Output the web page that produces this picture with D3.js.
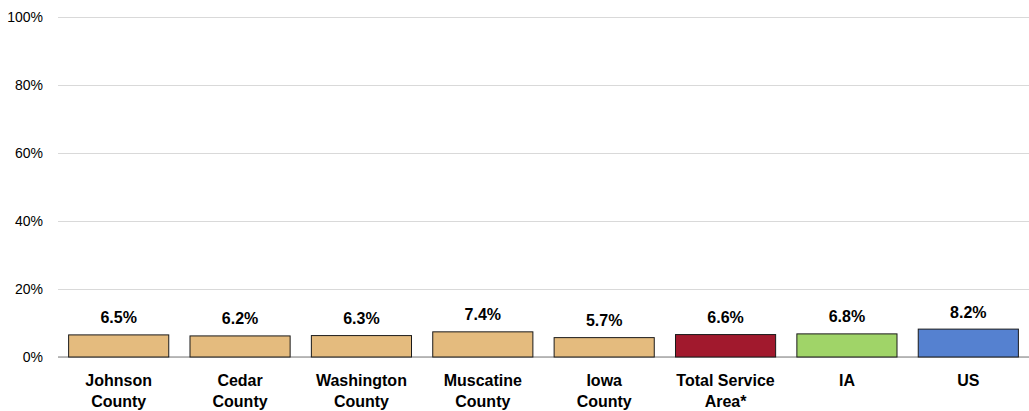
<!DOCTYPE html>
<html><head><meta charset="utf-8">
<script src="https://cdn.jsdelivr.net/npm/d3@7"></script>
<style>body{margin:0;background:#fff}svg{display:block}text{font-family:"Liberation Sans Narrow","Arial Narrow","Liberation Sans",Arial,sans-serif}</style>
</head><body><svg id="c" width="1029" height="411"></svg>
<script>
const categories = [["Johnson","County"],["Cedar","County"],["Washington","County"],["Muscatine","County"],["Iowa","County"],["Total Service","Area*"],["IA"],["US"]];
const values = [6.5, 6.2, 6.3, 7.4, 5.7, 6.6, 6.8, 8.2];
const colors = ["#E4BB7E","#E4BB7E","#E4BB7E","#E4BB7E","#E4BB7E","#A1192D","#A0D468","#5581D0"];
const ticks = [0, 20, 40, 60, 80, 100];

(function(){
const svg = d3.select("#c");
const mL = 58, mR = 1029, mT = 17, mB = 357;
const x = d3.scaleBand().domain(d3.range(categories.length)).range([mL, mR]).paddingInner(0.175).paddingOuter(0.0875);
const y = d3.scaleLinear().domain([0, 100]).range([mB, mT]);

const yAxis = svg.append("g").attr("transform", `translate(${mL},0)`)
  .call(d3.axisLeft(y).tickValues(ticks).tickFormat(d => d + "%").tickSize(-(mR - mL)).tickPadding(15));
yAxis.select(".domain").remove();
yAxis.selectAll(".tick line").attr("stroke", "#d9d9d9").attr("stroke-width", 1);
yAxis.selectAll(".tick text").attr("font-size", 14).attr("fill", "#000")
  .attr("font-family", "'Liberation Sans Narrow','Arial Narrow','Liberation Sans',Arial,sans-serif");

svg.append("line").attr("x1", mL).attr("x2", mR).attr("y1", y(0)).attr("y2", y(0)).attr("stroke", "#a6a6a6").attr("stroke-width", 1.5);

svg.selectAll("rect.bar").data(values).join("rect").attr("class", "bar")
  .attr("x", (d, i) => x(i)).attr("width", x.bandwidth())
  .attr("y", d => y(d)).attr("height", d => y(0) - y(d))
  .attr("fill", (d, i) => colors[i]).attr("stroke", "#1a1a1a").attr("stroke-width", 1);

svg.selectAll("text.val").data(values).join("text").attr("class", "val")
  .attr("x", (d, i) => x(i) + x.bandwidth() / 2).attr("y", d => y(d) - 11.5)
  .attr("text-anchor", "middle").attr("font-size", 16).attr("font-weight", "bold").text(d => d.toFixed(1) + "%");

const lab = svg.selectAll("text.cat").data(categories).join("text").attr("class", "cat")
  .attr("x", (d, i) => x(i) + x.bandwidth() / 2).attr("y", 386)
  .attr("text-anchor", "middle").attr("font-size", 16).attr("font-weight", "bold");
lab.selectAll("tspan").data(d => d).join("tspan")
  .attr("x", function() { return d3.select(this.parentNode).attr("x"); })
  .attr("dy", (d, i) => i === 0 ? 0 : 21).text(d => d);
})();
</script></body></html>
